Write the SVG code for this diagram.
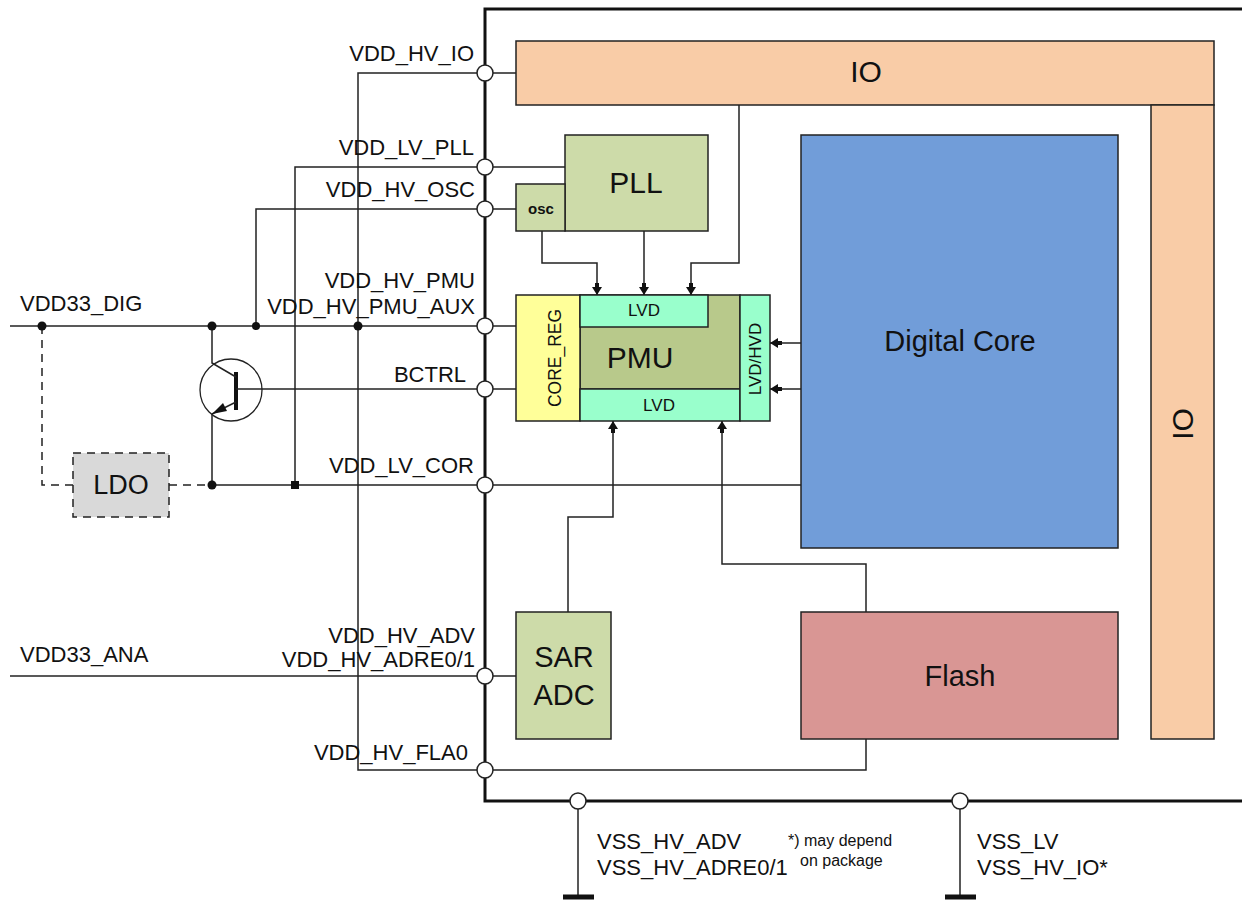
<svg xmlns="http://www.w3.org/2000/svg" width="1242" height="901" viewBox="0 0 1242 901">
<style>
text{font-family:"Liberation Sans",Arial,sans-serif;fill:#111}
.pl{font-size:22px;text-anchor:end}
.vl{font-size:22px}
.blk{stroke:#222;stroke-width:1.5}
.w{fill:none;stroke:#222;stroke-width:1.5}
.d{fill:none;stroke:#222;stroke-width:1.5;stroke-dasharray:8,6}
.pin{fill:#fff;stroke:#222;stroke-width:1.5}
.c{text-anchor:middle}
</style>
<defs>
<marker id="ar" viewBox="0 0 12 12" refX="12" refY="6" markerWidth="12" markerHeight="12" markerUnits="userSpaceOnUse" orient="auto">
<path d="M0,4 H4 V1 L12,6 L4,11 V8 H0 Z" fill="#111"/>
</marker>
</defs>
<rect width="1242" height="901" fill="#fff"/>

<g id="chip">
<path d="M1242,9 H485 V801 H1242" fill="none" stroke="#111" stroke-width="3"/>
</g>

<g id="io">
<rect class="blk" x="516" y="41" width="698" height="64" fill="#f9cca7"/>
<rect class="blk" x="1151" y="105" width="63" height="634" fill="#f9cca7"/>
<text x="866" y="82" class="c" font-size="30">IO</text>
<text transform="translate(1193,424) rotate(-90)" class="c" font-size="30">IO</text>
</g>

<g id="digital-core">
<rect class="blk" x="801" y="135" width="317" height="413" fill="#719dd9"/>
<text x="960" y="351" class="c" font-size="29">Digital Core</text>
</g>

<g id="flash">
<rect class="blk" x="801" y="612" width="317" height="127" fill="#d99694"/>
<text x="960" y="686" class="c" font-size="29">Flash</text>
</g>

<g id="sar-adc">
<rect class="blk" x="516" y="612" width="95" height="127" fill="#cddba9"/>
<text x="564" y="667" class="c" font-size="29">SAR</text>
<text x="564" y="705" class="c" font-size="29">ADC</text>
</g>

<g id="pll">
<rect class="blk" x="565" y="135" width="143" height="96" fill="#cddba9"/>
<text x="636" y="193" class="c" font-size="30">PLL</text>
</g>
<g id="osc">
<rect class="blk" x="516" y="184" width="49" height="47" fill="#cddba9"/>
<text x="541" y="214" class="c" font-size="15" font-weight="bold">osc</text>
</g>

<g id="pmu">
<rect class="blk" x="580" y="295" width="160" height="94" fill="#b8c98b"/>
<text x="640" y="368" class="c" font-size="30">PMU</text>
</g>
<g id="core-reg">
<rect class="blk" x="516" y="295" width="64" height="126" fill="#ffff99"/>
<text transform="translate(561,358) rotate(-90)" class="c" font-size="17.5">CORE_REG</text>
</g>
<g id="lvd-top">
<rect class="blk" x="580" y="295" width="128" height="32" fill="#99ffcc"/>
<text x="644" y="316" class="c" font-size="17">LVD</text>
</g>
<g id="lvd-bottom">
<rect class="blk" x="580" y="389" width="160" height="32" fill="#99ffcc"/>
<text x="659" y="411" class="c" font-size="17">LVD</text>
</g>
<g id="lvd-hvd">
<rect class="blk" x="740" y="295" width="30" height="126" fill="#99ffcc"/>
<text transform="translate(761,359) rotate(-90)" class="c" font-size="17">LVD/HVD</text>
</g>

<g id="ldo">
<rect x="73" y="453" width="96" height="64" fill="#d9d9d9" stroke="#222" stroke-width="1.5" stroke-dasharray="8,6"/>
<text x="121" y="494" class="c" font-size="27">LDO</text>
</g>

<g id="transistor">
<circle cx="231" cy="390" r="31" fill="none" stroke="#222" stroke-width="1.3"/>
<line x1="236" y1="372" x2="236" y2="410" stroke="#111" stroke-width="4"/>
<path class="w" d="M212,326 V363 L236,377"/>
<path class="w" d="M236,402 L212,414"/>
<path d="M212,414 L223,403 L227,411 Z" fill="#111"/>
</g>

<g id="connectors">
<path class="w" d="M516,73 H358 V770 H866 V739"/>
<path class="w" d="M565,167 H295 V485"/>
<path class="w" d="M516,209 H256 V326"/>
<path class="w" d="M10,326 H516"/>
<path class="w" d="M236,389 H516"/>
<path class="w" d="M212,414 V485 H801"/>
<path class="d" d="M42,326 V485 H73"/>
<path class="d" d="M169,485 H212"/>
<path class="w" d="M10,676 H516"/>
<path class="w" d="M542,231 V263 H597 V295" marker-end="url(#ar)"/>
<path class="w" d="M644,231 V295" marker-end="url(#ar)"/>
<path class="w" d="M739,105 V263 H691 V295" marker-end="url(#ar)"/>
<path class="w" d="M801,343 H770" marker-end="url(#ar)"/>
<path class="w" d="M801,389 H770" marker-end="url(#ar)"/>
<path class="w" d="M568,612 V517 H613 V421" marker-end="url(#ar)"/>
<path class="w" d="M866,612 V564 H722 V421" marker-end="url(#ar)"/>
<path class="w" d="M578,801 V897"/>
<path class="w" d="M960,801 V897"/>
<path d="M563,897 H594 M945,897 H976" stroke="#111" stroke-width="5"/>
<circle cx="42" cy="326" r="4.5" fill="#111"/>
<circle cx="212" cy="326" r="4.5" fill="#111"/>
<circle cx="256" cy="326" r="4" fill="#111"/>
<circle cx="358" cy="326" r="4.5" fill="#111"/>
<circle cx="212" cy="485" r="4.5" fill="#111"/>
<rect x="291" y="481" width="8" height="8" fill="#111"/>
</g>

<g id="pins">
<circle class="pin" cx="485" cy="73" r="8"/>
<circle class="pin" cx="485" cy="167" r="8"/>
<circle class="pin" cx="485" cy="209" r="8"/>
<circle class="pin" cx="485" cy="326" r="8"/>
<circle class="pin" cx="485" cy="389" r="8"/>
<circle class="pin" cx="485" cy="485" r="8"/>
<circle class="pin" cx="485" cy="676" r="8"/>
<circle class="pin" cx="485" cy="770" r="8"/>
<circle class="pin" cx="578" cy="801" r="8"/>
<circle class="pin" cx="960" cy="801" r="8"/>
</g>

<g id="labels">
<text class="pl" x="474" y="61">VDD_HV_IO</text>
<text class="pl" x="474" y="155">VDD_LV_PLL</text>
<text class="pl" x="475" y="197">VDD_HV_OSC</text>
<text class="pl" x="475" y="288">VDD_HV_PMU</text>
<text class="pl" x="475" y="314">VDD_HV_PMU_AUX</text>
<text class="pl" x="466" y="382">BCTRL</text>
<text class="pl" x="474" y="473">VDD_LV_COR</text>
<text class="pl" x="475" y="643">VDD_HV_ADV</text>
<text class="pl" x="475" y="667">VDD_HV_ADRE0/1</text>
<text class="pl" x="468" y="760">VDD_HV_FLA0</text>
<text class="vl" x="20" y="311">VDD33_DIG</text>
<text class="vl" x="20" y="662">VDD33_ANA</text>
<text class="vl" x="597" y="849">VSS_HV_ADV</text>
<text class="vl" x="597" y="875">VSS_HV_ADRE0/1</text>
<text class="vl" x="977" y="849">VSS_LV</text>
<text class="vl" x="977" y="875">VSS_HV_IO*</text>
<text x="788" y="846" font-size="16">*) may depend</text>
<text x="800" y="866" font-size="16">on package</text>
</g>
</svg>
